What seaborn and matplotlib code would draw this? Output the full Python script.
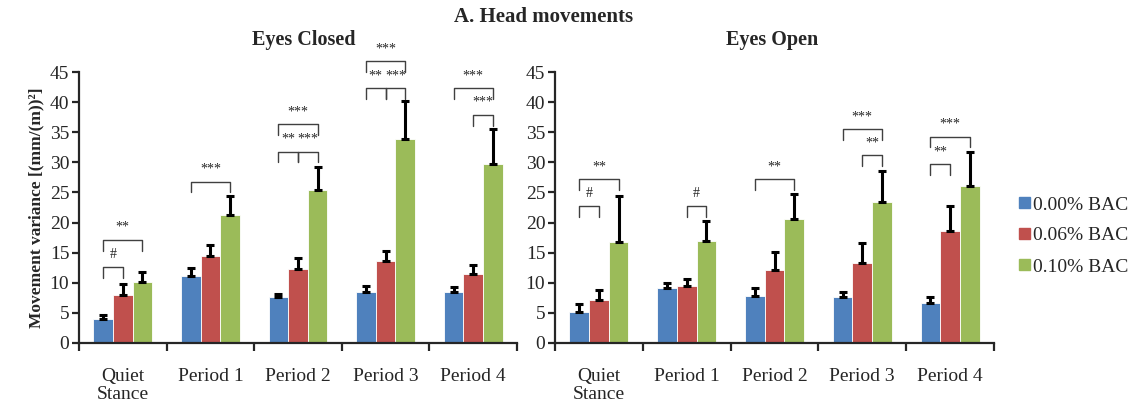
import numpy as np
import pandas as pd
import matplotlib
matplotlib.use("Agg")
import matplotlib.pyplot as plt
import seaborn as sns

# Data
periods = ["Quiet\nStance", "Period 1", "Period 2", "Period 3", "Period 4"]
bac_levels = ["0.00% BAC", "0.06% BAC", "0.10% BAC"]
colors = ["#4F81BD", "#C0504D", "#9BBB59"]

closed_000 = [4.0, 11.2, 7.7, 8.4, 8.4]
closed_006 = [7.9, 14.4, 12.3, 13.6, 11.4]
closed_010 = [10.1, 21.3, 25.4, 33.9, 29.8]
closed_err_000 = [0.6, 1.2, 0.5, 1.1, 0.9]
closed_err_006 = [1.9, 1.9, 1.8, 1.7, 1.5]
closed_err_010 = [1.7, 3.2, 3.8, 6.3, 5.7]

open_000 = [5.2, 9.2, 7.8, 7.6, 6.7]
open_006 = [7.1, 9.5, 12.2, 13.3, 18.6]
open_010 = [16.7, 16.9, 20.6, 23.5, 26.1]
open_err_000 = [1.2, 0.8, 1.4, 0.9, 0.9]
open_err_006 = [1.7, 1.2, 2.9, 3.3, 4.1]
open_err_010 = [7.8, 3.4, 4.1, 5.0, 5.6]

# significance brackets: (group, bar_a, bar_b, top, label)
closed_sig = [
    (0, 0, 1, 12.6, "#"), (0, 0, 2, 17.1, "**"),
    (1, 0, 2, 26.8, "***"),
    (2, 0, 1, 31.8, "**"), (2, 1, 2, 31.8, "***"), (2, 0, 2, 36.3, "***"),
    (3, 0, 1, 42.3, "**"), (3, 1, 2, 42.3, "***"), (3, 0, 2, 46.8, "***"),
    (4, 1, 2, 37.9, "***"), (4, 0, 2, 42.3, "***"),
]
open_sig = [
    (0, 0, 1, 22.8, "#"), (0, 0, 2, 27.2, "**"),
    (1, 1, 2, 22.8, "#"),
    (2, 0, 2, 27.2, "**"),
    (3, 1, 2, 31.2, "**"), (3, 0, 2, 35.5, "***"),
    (4, 0, 1, 29.7, "**"), (4, 0, 2, 34.3, "***"),
]


def make_df(v0, v1, v2):
    rows = []
    for lvl, vals in zip(bac_levels, [v0, v1, v2]):
        for p, v in zip(periods, vals):
            rows.append({"period": p, "bac": lvl, "value": v})
    return pd.DataFrame(rows)


sns.set_style("ticks")
plt.rcParams["font.family"] = ["Liberation Serif", "DejaVu Serif"]
plt.rcParams["axes.linewidth"] = 1.6

fig = plt.figure(figsize=(11.46, 4.03), dpi=100)
ax1 = fig.add_axes([79 / 1146, 0.149, 438 / 1146, 0.672])
ax2 = fig.add_axes([555 / 1146, 0.149, 439 / 1146, 0.672])


def draw_panel(ax, df, errs, sigs):
    sns.barplot(data=df, x="period", y="value", hue="bac", hue_order=bac_levels,
                palette=colors, width=0.67, errorbar=None, saturation=1,
                edgecolor="white", linewidth=0.6, ax=ax, legend=False)
    centers = []
    for cont, err in zip(ax.containers, errs):
        xs = [b.get_x() + b.get_width() / 2 for b in cont]
        hs = [b.get_height() for b in cont]
        centers.append(xs)
        ax.errorbar(xs, hs, yerr=[np.zeros(len(err)), err], fmt="none",
                    ecolor="black", elinewidth=2.2, capsize=3.2, capthick=2.2)
    for g, a, b, top, lab in sigs:
        xa, xb = centers[a][g], centers[b][g]
        ax.plot([xa, xa, xb, xb], [top - 1.8, top, top, top - 1.8],
                color="#404040", lw=1.0, clip_on=False)
        ax.text((xa + xb) / 2, top + 1.0, lab, ha="center", va="bottom",
                fontsize=10, clip_on=False)
    ax.set_ylim(0, 45)
    ax.set_yticks(range(0, 46, 5))
    ax.set_xlim(-0.5, 4.5)
    ax.set_xticks(np.arange(-0.5, 5, 1))
    ax.set_xticklabels([])
    ax.set_xticks(range(5), minor=True)
    ax.set_xticklabels(periods, minor=True, fontsize=14, linespacing=1.05)
    ax.tick_params(axis="x", which="major", length=6, width=1.6, direction="out")
    ax.tick_params(axis="x", which="minor", length=0, pad=18)
    ax.tick_params(axis="y", length=5, width=1.6, labelsize=14, pad=2)
    ax.set_xlabel("")
    ax.set_ylabel("")
    sns.despine(ax=ax)


draw_panel(ax1, make_df(closed_000, closed_006, closed_010),
           [closed_err_000, closed_err_006, closed_err_010], closed_sig)
draw_panel(ax2, make_df(open_000, open_006, open_010),
           [open_err_000, open_err_006, open_err_010], open_sig)

ax1.set_ylabel("Movement variance [(mm/(m))²]", fontsize=12.5,
               fontweight="bold", labelpad=4)

fig.text(304 / 1146, 1 - 40 / 403, "Eyes Closed", ha="center", va="center",
         fontsize=14.5, fontweight="bold")
fig.text(772 / 1146, 1 - 40 / 403, "Eyes Open", ha="center", va="center",
         fontsize=14.5, fontweight="bold")
fig.text(544 / 1146, 1 - 17 / 403, "A. Head movements", ha="center", va="center",
         fontsize=15, fontweight="bold")

handles = [plt.Rectangle((0, 0), 1, 1, color=c) for c in colors]
fig.legend(handles, bac_levels, loc="center left",
           bbox_to_anchor=(1019 / 1146, 1 - 236 / 403),
           frameon=False, fontsize=14, handlelength=0.55, handleheight=0.55,
           handletextpad=0.15, labelspacing=0.72, borderaxespad=0, borderpad=0)

fig.savefig("out.png", dpi=100)
